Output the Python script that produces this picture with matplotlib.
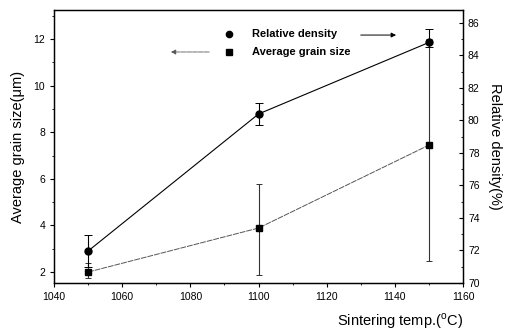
import matplotlib
matplotlib.use("Agg")
import matplotlib.pyplot as plt
from matplotlib.ticker import MultipleLocator

temps = [1050, 1100, 1150]
grain_size = [2.0, 3.89, 7.45]
grain_lo = [1.75, 1.87, 2.47]
grain_hi = [2.4, 5.8, 12.0]
density = [71.97, 80.4, 84.8]
dens_lo = [71.0, 79.7, 84.55]
dens_hi = [72.95, 81.1, 85.6]

plt.rcParams['font.family'] = ['Liberation Sans', 'DejaVu Sans']
plt.rcParams['mathtext.fontset'] = 'custom'
plt.rcParams['mathtext.rm'] = 'Liberation Sans'

fig = plt.figure(figsize=(5.1, 3.31), dpi=100)
ax = fig.add_axes([0.106, 0.145, 0.802, 0.825])
ax2 = ax.twinx()

g_err = [[g - lo for g, lo in zip(grain_size, grain_lo)],
         [hi - g for g, hi in zip(grain_size, grain_hi)]]
d_err = [[d - lo for d, lo in zip(density, dens_lo)],
         [hi - d for d, hi in zip(density, dens_hi)]]

ax.errorbar(temps, grain_size, yerr=g_err, color='#555555', lw=0.7,
            marker='s', ms=4.5, mfc='black', mec='black', capsize=2.5,
            elinewidth=0.8, capthick=0.7, dashes=(6, 1), ecolor='#333333')
ax2.errorbar(temps, density, yerr=d_err, color='black', lw=0.8,
             marker='o', ms=5, mfc='black', mec='black', capsize=3,
             elinewidth=0.8, capthick=0.7)

ax.set_xlim(1040, 1160)
ax.set_ylim(1.53, 13.25)
ax2.set_ylim(70, 86.8)

ax.xaxis.set_major_locator(MultipleLocator(20))
ax.xaxis.set_minor_locator(MultipleLocator(10))
ax.yaxis.set_major_locator(MultipleLocator(2))
ax.yaxis.set_minor_locator(MultipleLocator(1))
ax2.yaxis.set_major_locator(MultipleLocator(2))
ax2.yaxis.set_minor_locator(MultipleLocator(1))

ax.tick_params(axis='both', which='major', labelsize=7.5, direction='out', length=3, width=0.8)
ax.tick_params(axis='both', which='minor', direction='out', length=1.5, width=0.6)
ax2.tick_params(axis='y', which='major', labelsize=7.5, direction='in', length=3, width=0.8)
ax2.tick_params(axis='y', which='minor', direction='in', length=1.5, width=0.6)

for a in (ax, ax2):
    for s in a.spines.values():
        s.set_linewidth(0.9)

ax.set_ylabel('Average grain size(\u03bcm)', fontsize=10.5, labelpad=6)
ax2.set_ylabel('Relative density(%)', fontsize=10.5, rotation=-90, labelpad=16)
ax.set_xlabel('Sintering temp.($^{\\rm o}$C)', fontsize=10.5, ha='right', va='center')
ax.xaxis.set_label_coords(1.0, -0.14)

# Legend drawn as annotations with arrows
tf = ax.transAxes
ax.plot([0.428], [0.912], marker='o', ms=4.5, color='black', transform=tf, clip_on=False)
ax.text(0.484, 0.912, 'Relative density', fontsize=8, fontweight='bold',
        va='center', ha='left', transform=tf)
ax.annotate('', xy=(0.843, 0.908), xytext=(0.743, 0.908), xycoords=tf,
            arrowprops=dict(arrowstyle='-|>', lw=0.7, color='black', mutation_scale=7))
ax.plot([0.428], [0.846], marker='s', ms=4, color='black', transform=tf, clip_on=False)
ax.text(0.484, 0.846, 'Average grain size', fontsize=8, fontweight='bold',
        va='center', ha='left', transform=tf)
ax.annotate('', xy=(0.279, 0.846), xytext=(0.386, 0.846), xycoords=tf,
            arrowprops=dict(arrowstyle='-|>', lw=0.6, color='#555555', mutation_scale=7,
                            linestyle=(0, (6, 1))))

fig.savefig('out.png', dpi=100)
